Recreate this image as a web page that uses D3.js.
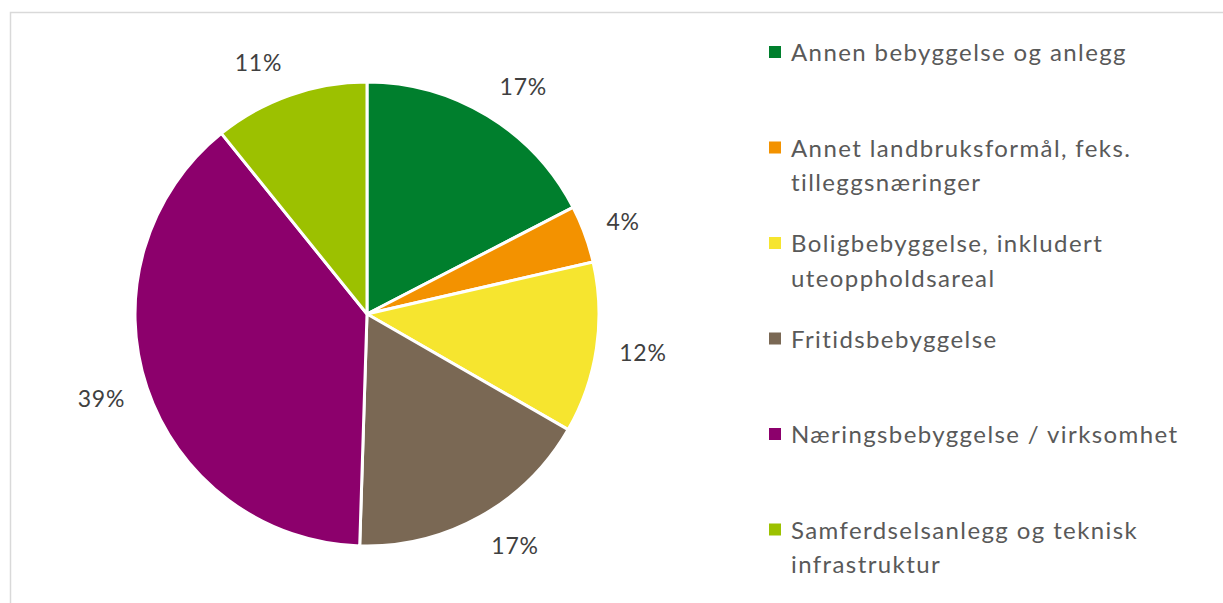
<!DOCTYPE html>
<html>
<head>
<meta charset="utf-8">
<script src="https://cdn.jsdelivr.net/npm/d3@7"></script>
<style>
body { margin: 0; background: #fff; }
text { font-family: Lato, "Open Sans", sans-serif; }
</style>
</head>
<body>
<div id="chart"></div>
<script>
const svgWidth = 1223,
svgHeight = 603;

// categories + shares
const categories = [
"Annen bebyggelse og anlegg",
"Annet landbruksformål, feks. tilleggsnæringer",
"Boligbebyggelse, inkludert uteoppholdsareal",
"Fritidsbebyggelse",
"Næringsbebyggelse / virksomhet",
"Samferdselsanlegg og teknisk infrastruktur"
];
const shares = [17.4, 4.0, 11.9, 17.2, 38.7, 10.8];
// legend lines (wrapped like in the original)
const legendLines = [
["Annen bebyggelse og anlegg"],
["Annet landbruksformål, feks.", "tilleggsnæringer"],
["Boligbebyggelse, inkludert", "uteoppholdsareal"],
["Fritidsbebyggelse"],
["Næringsbebyggelse / virksomhet"],
["Samferdselsanlegg og teknisk", "infrastruktur"]
];
const colors = ["#007F2D", "#F39200", "#F6E52F", "#7A6854", "#8C006C", "#9CC100"];

const svg = d3.select("#chart")
.append("svg")
.attr("width", svgWidth)
.attr("height", svgHeight);

// chart area frame
svg.append("rect")
.attr("x", 10.5)
.attr("y", 12.5)
.attr("width", 1240)
.attr("height", 620)
.attr("fill", "none")
.attr("stroke", "#d9d9d9")
.attr("stroke-width", 1.5);

const cx = 367, cy = 314, radius = 232;

const pie = d3.pie().sort(null).value(d => d);
const arcs = pie(shares);
const arc = d3.arc().innerRadius(0).outerRadius(radius);
const labelArc = d3.arc().innerRadius(255).outerRadius(255);
const total = d3.sum(shares);
const fmt = d3.format(".0%");

const pieGroup = svg.append("g")
.attr("transform", `translate(${cx}, ${cy})`);

pieGroup.selectAll("path")
.data(arcs)
.enter()
.append("path")
.attr("d", arc)
.attr("fill", (d, i) => colors[i])
.attr("stroke", "#fff")
.attr("stroke-width", 3)
.attr("stroke-linejoin", "round");

// outside-end labels: box sits just outside the rim (excel style)
const labelH = 22;
pieGroup.selectAll("text.pct")
.data(arcs)
.enter()
.append("text")
.attr("class", "pct")
.attr("text-anchor", "middle")
.attr("dy", "0.35em")
.attr("fill", "#404040")
.style("font-size", "23px")
.style("letter-spacing", "0.8px")
.text(d => fmt(d.value / total))
.attr("transform", function(d) {
    const w = this.getComputedTextLength();
    const a = (d.startAngle + d.endAngle) / 2;
    const [px, py] = labelArc.centroid(d);
    const s = Math.sin(a), c = Math.cos(a);
    const ox = w / 2 * Math.sign(s) * Math.min(1, Math.abs(s) * 3);
    const oy = -labelH / 2 * c;
    return `translate(${px + ox}, ${py + oy})`;
});

// legend
const legend = svg.append("g")
.attr("transform", "translate(769, 52)");

const items = legend.selectAll("g")
.data(categories)
.enter()
.append("g")
.attr("transform", (d, i) => `translate(0, ${i * 95.5})`);

items.append("rect")
.attr("x", 0)
.attr("y", -6)
.attr("width", 12)
.attr("height", 12)
.attr("fill", (d, i) => colors[i]);

items.each(function(d, i) {
const t = d3.select(this).append("text")
    .attr("x", 22)
    .attr("y", 9)
    .attr("fill", "#595959")
    .style("font-size", "24px")
    .style("letter-spacing", "1.4px");
legendLines[i].forEach((line, j) => {
    t.append("tspan")
    .attr("x", 22)
    .attr("dy", j === 0 ? 0 : 34.5)
    .text(line);
});
});
</script>
</body>
</html>
